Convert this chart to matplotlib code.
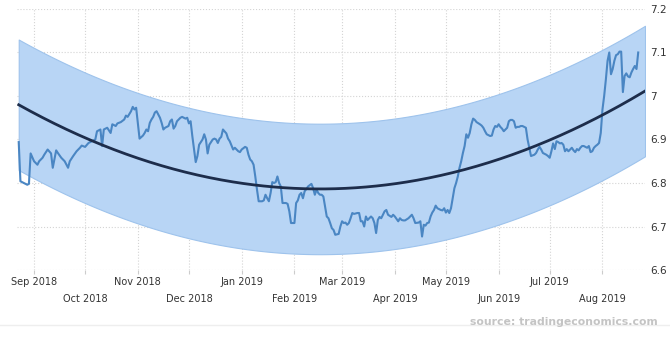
import numpy as np
import pandas as pd
import matplotlib
matplotlib.use('Agg')
import matplotlib.pyplot as plt
import matplotlib.dates as mdates

# daily USD/CNY quotes, Aug 2018 - Aug 2019
dates = [
    '2018-08-23', '2018-08-24', '2018-08-28', '2018-08-29', '2018-08-30', '2018-09-01', '2018-09-03', '2018-09-04',
    '2018-09-06', '2018-09-07', '2018-09-09', '2018-09-11', '2018-09-12', '2018-09-14', '2018-09-15', '2018-09-17',
    '2018-09-19', '2018-09-21', '2018-09-22', '2018-09-24', '2018-09-26', '2018-09-28', '2018-09-29', '2018-10-01',
    '2018-10-03', '2018-10-05', '2018-10-07', '2018-10-08', '2018-10-10', '2018-10-11', '2018-10-12', '2018-10-14',
    '2018-10-16', '2018-10-17', '2018-10-19', '2018-10-20', '2018-10-22', '2018-10-24', '2018-10-25', '2018-10-26',
    '2018-10-28', '2018-10-29', '2018-10-30', '2018-10-31', '2018-11-01', '2018-11-02', '2018-11-04', '2018-11-05',
    '2018-11-06', '2018-11-07', '2018-11-08', '2018-11-09', '2018-11-10', '2018-11-11', '2018-11-12', '2018-11-14',
    '2018-11-15', '2018-11-16', '2018-11-17', '2018-11-19', '2018-11-20', '2018-11-21', '2018-11-22', '2018-11-23',
    '2018-11-24', '2018-11-26', '2018-11-27', '2018-11-29', '2018-11-30', '2018-12-01', '2018-12-02', '2018-12-03',
    '2018-12-04', '2018-12-05', '2018-12-06', '2018-12-07', '2018-12-09', '2018-12-10', '2018-12-11', '2018-12-12',
    '2018-12-13', '2018-12-15', '2018-12-16', '2018-12-17', '2018-12-18', '2018-12-19', '2018-12-20', '2018-12-21',
    '2018-12-23', '2018-12-24', '2018-12-25', '2018-12-27', '2018-12-28', '2018-12-30', '2018-12-31', '2019-01-01',
    '2019-01-03', '2019-01-04', '2019-01-05', '2019-01-06', '2019-01-07', '2019-01-08', '2019-01-09', '2019-01-10',
    '2019-01-11', '2019-01-13', '2019-01-14', '2019-01-15', '2019-01-16', '2019-01-17', '2019-01-18', '2019-01-19',
    '2019-01-20', '2019-01-21', '2019-01-22', '2019-01-23', '2019-01-24', '2019-01-25', '2019-01-26', '2019-01-27',
    '2019-01-28', '2019-01-29', '2019-01-30', '2019-02-01', '2019-02-02', '2019-02-03', '2019-02-04', '2019-02-05',
    '2019-02-06', '2019-02-07', '2019-02-08', '2019-02-09', '2019-02-11', '2019-02-12', '2019-02-13', '2019-02-14',
    '2019-02-15', '2019-02-16', '2019-02-17', '2019-02-18', '2019-02-19', '2019-02-20', '2019-02-21', '2019-02-22',
    '2019-02-23', '2019-02-24', '2019-02-25', '2019-02-27', '2019-02-28', '2019-03-01', '2019-03-02', '2019-03-03',
    '2019-03-04', '2019-03-05', '2019-03-06', '2019-03-07', '2019-03-08', '2019-03-10', '2019-03-11', '2019-03-12',
    '2019-03-13', '2019-03-14', '2019-03-15', '2019-03-16', '2019-03-17', '2019-03-18', '2019-03-19', '2019-03-20',
    '2019-03-21', '2019-03-22', '2019-03-23', '2019-03-24', '2019-03-25', '2019-03-26', '2019-03-27', '2019-03-28',
    '2019-03-30', '2019-03-31', '2019-04-01', '2019-04-03', '2019-04-04', '2019-04-05', '2019-04-06', '2019-04-07',
    '2019-04-09', '2019-04-10', '2019-04-11', '2019-04-12', '2019-04-13', '2019-04-15', '2019-04-16', '2019-04-17',
    '2019-04-18', '2019-04-19', '2019-04-20', '2019-04-21', '2019-04-22', '2019-04-23', '2019-04-24', '2019-04-25',
    '2019-04-26', '2019-04-27', '2019-04-28', '2019-04-29', '2019-04-30', '2019-05-01', '2019-05-02', '2019-05-03',
    '2019-05-04', '2019-05-05', '2019-05-06', '2019-05-07', '2019-05-08', '2019-05-09', '2019-05-10', '2019-05-11',
    '2019-05-12', '2019-05-13', '2019-05-14', '2019-05-15', '2019-05-16', '2019-05-17', '2019-05-18', '2019-05-19',
    '2019-05-21', '2019-05-22', '2019-05-23', '2019-05-24', '2019-05-25', '2019-05-27', '2019-05-28', '2019-05-29',
    '2019-05-30', '2019-05-31', '2019-06-01', '2019-06-02', '2019-06-03', '2019-06-04', '2019-06-05', '2019-06-06',
    '2019-06-07', '2019-06-08', '2019-06-09', '2019-06-10', '2019-06-11', '2019-06-12', '2019-06-13', '2019-06-14',
    '2019-06-15', '2019-06-16', '2019-06-17', '2019-06-18', '2019-06-19', '2019-06-20', '2019-06-22', '2019-06-23',
    '2019-06-24', '2019-06-25', '2019-06-26', '2019-06-27', '2019-06-29', '2019-06-30', '2019-07-01', '2019-07-02',
    '2019-07-03', '2019-07-04', '2019-07-05', '2019-07-06', '2019-07-07', '2019-07-08', '2019-07-09', '2019-07-10',
    '2019-07-11', '2019-07-12', '2019-07-13', '2019-07-14', '2019-07-15', '2019-07-16', '2019-07-17', '2019-07-18',
    '2019-07-19', '2019-07-20', '2019-07-21', '2019-07-23', '2019-07-24', '2019-07-25', '2019-07-26', '2019-07-27',
    '2019-07-28', '2019-07-29', '2019-07-30', '2019-07-31', '2019-08-01', '2019-08-02', '2019-08-03', '2019-08-04',
    '2019-08-05', '2019-08-06', '2019-08-07', '2019-08-08', '2019-08-09', '2019-08-10', '2019-08-11', '2019-08-12',
    '2019-08-13', '2019-08-14', '2019-08-15', '2019-08-16', '2019-08-17', '2019-08-18', '2019-08-19', '2019-08-20',
    '2019-08-21', '2019-08-22',
]
rates = [
    6.894, 6.804, 6.796, 6.798, 6.868, 6.850, 6.842, 6.850,
    6.858, 6.865, 6.877, 6.868, 6.835, 6.875, 6.869, 6.858,
    6.850, 6.835, 6.850, 6.862, 6.873, 6.881, 6.886, 6.883,
    6.892, 6.896, 6.900, 6.919, 6.923, 6.885, 6.923, 6.927,
    6.915, 6.935, 6.931, 6.937, 6.940, 6.946, 6.955, 6.952,
    6.965, 6.975, 6.969, 6.973, 6.938, 6.902, 6.909, 6.915,
    6.923, 6.919, 6.938, 6.946, 6.952, 6.962, 6.965, 6.950,
    6.938, 6.923, 6.927, 6.931, 6.942, 6.946, 6.925, 6.931,
    6.942, 6.950, 6.952, 6.948, 6.950, 6.937, 6.942, 6.908,
    6.877, 6.848, 6.862, 6.888, 6.900, 6.912, 6.900, 6.868,
    6.888, 6.900, 6.902, 6.900, 6.892, 6.902, 6.906, 6.923,
    6.914, 6.902, 6.896, 6.877, 6.881, 6.873, 6.871, 6.877,
    6.883, 6.881, 6.865, 6.854, 6.850, 6.842, 6.815, 6.785,
    6.758, 6.758, 6.760, 6.773, 6.765, 6.758, 6.777, 6.802,
    6.800, 6.802, 6.815, 6.800, 6.792, 6.754, 6.754, 6.754,
    6.752, 6.735, 6.708, 6.708, 6.754, 6.760, 6.773, 6.777,
    6.765, 6.781, 6.786, 6.792, 6.798, 6.788, 6.773, 6.785,
    6.777, 6.773, 6.773, 6.769, 6.746, 6.723, 6.719, 6.708,
    6.696, 6.692, 6.681, 6.683, 6.700, 6.712, 6.708, 6.709,
    6.704, 6.708, 6.719, 6.731, 6.729, 6.731, 6.731, 6.712,
    6.712, 6.700, 6.723, 6.715, 6.719, 6.723, 6.719, 6.708,
    6.685, 6.715, 6.722, 6.719, 6.727, 6.735, 6.738, 6.727,
    6.722, 6.727, 6.723, 6.712, 6.719, 6.715, 6.714, 6.714,
    6.719, 6.723, 6.727, 6.719, 6.708, 6.709, 6.712, 6.677,
    6.704, 6.702, 6.708, 6.709, 6.723, 6.732, 6.738, 6.748,
    6.742, 6.740, 6.738, 6.737, 6.742, 6.732, 6.738, 6.731,
    6.742, 6.765, 6.788, 6.800, 6.815, 6.835, 6.850, 6.869,
    6.885, 6.912, 6.904, 6.915, 6.935, 6.948, 6.945, 6.940,
    6.935, 6.932, 6.927, 6.919, 6.912, 6.908, 6.909, 6.923,
    6.931, 6.929, 6.935, 6.929, 6.925, 6.919, 6.923, 6.927,
    6.942, 6.945, 6.945, 6.942, 6.927, 6.929, 6.929, 6.931,
    6.931, 6.929, 6.927, 6.900, 6.881, 6.862, 6.865, 6.869,
    6.877, 6.883, 6.877, 6.869, 6.865, 6.862, 6.858, 6.873,
    6.891, 6.878, 6.896, 6.894, 6.891, 6.892, 6.888, 6.873,
    6.878, 6.873, 6.877, 6.881, 6.875, 6.871, 6.878, 6.875,
    6.881, 6.885, 6.885, 6.881, 6.885, 6.871, 6.873, 6.881,
    6.885, 6.888, 6.892, 6.915, 6.969, 7.000, 7.038, 7.081,
    7.100, 7.050, 7.062, 7.081, 7.094, 7.096, 7.102, 7.102,
    7.009, 7.046, 7.052, 7.045, 7.043, 7.054, 7.062, 7.069,
    7.062, 7.100,
]

# trend line level at the start of each month, plus both ends
trend_dates = ['2018-08-23', '2018-09-01', '2018-10-01', '2018-11-01', '2018-12-01', '2019-01-01',
               '2019-02-01', '2019-03-01', '2019-04-01', '2019-05-01', '2019-06-01', '2019-07-01',
               '2019-08-01', '2019-08-26']
trend_values = [6.975, 6.962, 6.912, 6.858, 6.817, 6.798,
                6.788, 6.786, 6.798, 6.823, 6.858, 6.895,
                6.958, 7.010]
band_half_width = 0.15

yticks = [6.6, 6.7, 6.8, 6.9, 7.0, 7.1, 7.2]
ytick_labels = ['6.6', '6.7', '6.8', '6.9', '7', '7.1', '7.2']

t = pd.to_datetime(dates)
y = np.array(rates)

# smooth quadratic through the trend levels
tt = pd.to_datetime(trend_dates)
t0 = tt[0]
coef = np.polyfit((tt - t0).days.values, trend_values, 2)
t_fit = pd.date_range(tt[0], tt[-1], freq='D')
trend = np.polyval(coef, (t_fit - t0).days.values)

fig = plt.figure(figsize=(6.7, 3.43), dpi=100)
ax = fig.add_axes([0.0254, 0.2128, 0.9373, 0.761])

ax.fill_between(t_fit, trend - band_half_width, trend + band_half_width,
                facecolor='#b8d5f5', edgecolor='#9ec3ec', linewidth=0.8, zorder=1)
ax.plot(t_fit, trend, color='#1d2d4b', lw=2, zorder=3)
ax.plot(t, y, color='#4a86c3', lw=1.5, zorder=2)

ax.set_xlim(pd.Timestamp('2018-08-22'), pd.Timestamp('2019-08-26'))
ax.set_ylim(6.6, 7.2)

for s in ax.spines.values():
    s.set_visible(False)

ax.yaxis.tick_right()
ax.set_yticks(yticks)
ax.set_yticklabels(ytick_labels)
ax.tick_params(axis='y', length=0, pad=4, labelsize=7.5, labelcolor='#333333')

# month labels staggered on two rows
ax.xaxis.set_major_locator(mdates.MonthLocator(bymonth=[1, 3, 5, 7, 9, 11]))
ax.xaxis.set_minor_locator(mdates.MonthLocator(bymonth=[2, 4, 6, 8, 10, 12]))
ax.xaxis.set_major_formatter(mdates.DateFormatter('%b %Y'))
ax.xaxis.set_minor_formatter(mdates.DateFormatter('%b %Y'))
ax.tick_params(axis='x', which='major', length=3, width=0.8, color='#cccccc',
               pad=2, labelsize=7, labelcolor='#333333')
ax.tick_params(axis='x', which='minor', length=3, width=0.8, color='#cccccc',
               pad=14, labelsize=7, labelcolor='#333333')

ax.grid(True, which='both', axis='x', color='#d4d4d4', linestyle=':', linewidth=0.8, zorder=0)
ax.grid(True, which='major', axis='y', color='#d4d4d4', linestyle=':', linewidth=0.8, zorder=0)
ax.set_axisbelow(True)

fig.add_artist(plt.Line2D([0, 1], [1 - 325 / 343] * 2, color='#eeeeee', lw=1))
fig.text(0.982, 1 - 322 / 343, 'source: tradingeconomics.com', ha='right', va='center',
         fontsize=7.8, fontweight='bold', color='#c4c4c4')

fig.savefig('out.png', dpi=100, facecolor='white')
